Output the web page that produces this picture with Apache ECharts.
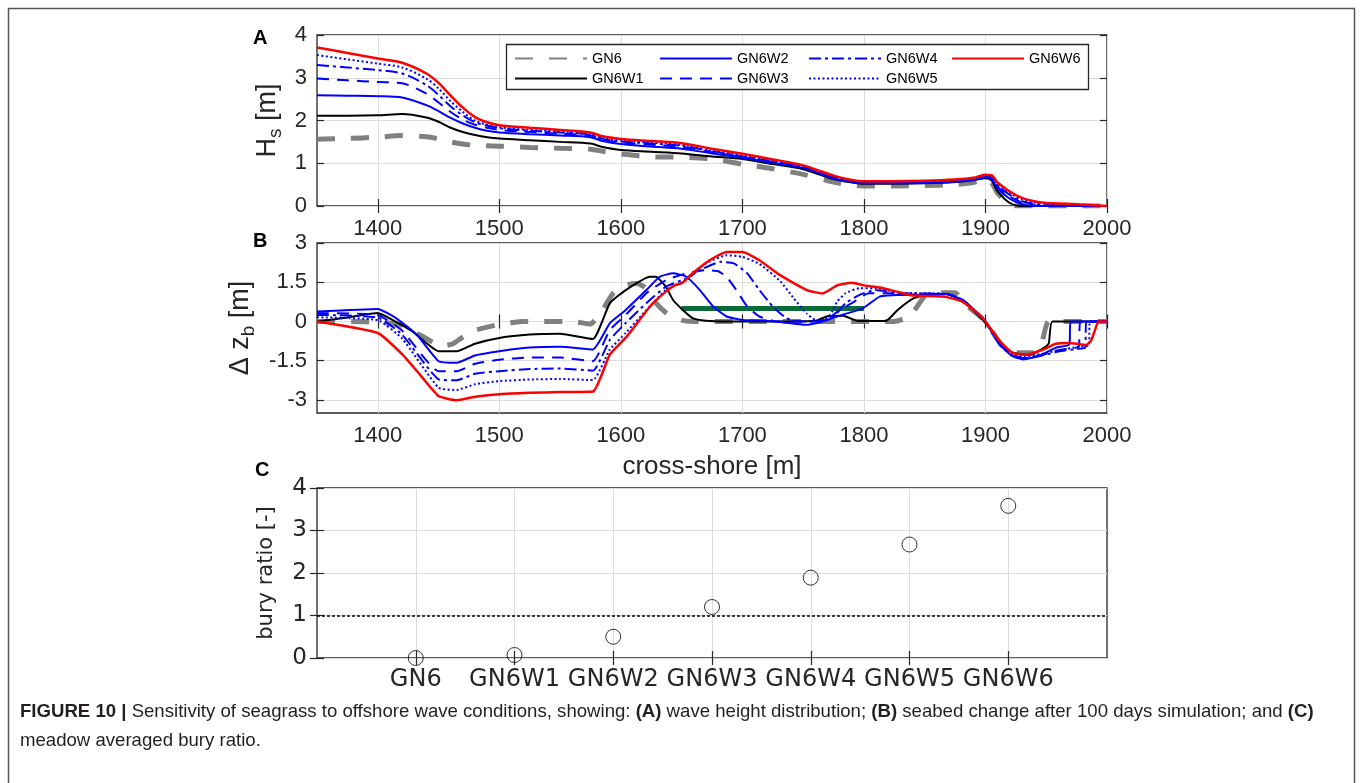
<!DOCTYPE html>
<html><head><meta charset="utf-8">
<script src="https://cdn.jsdelivr.net/npm/echarts@6/dist/echarts.min.js"></script>
<style>html,body{margin:0;padding:0;background:#fff}#c{width:1360px;height:783px}</style>
</head><body><div id="c"></div><script>
// ---------------- DATA ----------------
const seriesNames = ['GN6', 'GN6W1', 'GN6W2', 'GN6W3', 'GN6W4', 'GN6W5', 'GN6W6'];

// Panel A: significant wave height Hs [m] along cross-shore x [m]
const xA = [1350, 1375, 1400, 1420, 1440, 1450, 1460, 1470, 1480, 1490, 1500, 1525, 1550, 1575, 1585, 1600, 1625, 1650, 1675, 1700, 1725, 1750, 1775, 1790, 1800, 1825, 1850, 1875, 1890, 1900, 1905, 1910, 1920, 1930, 1940, 1950, 1960, 1975, 2000];
const hsGN6   = [1.56, 1.58, 1.61, 1.65, 1.62, 1.57, 1.50, 1.45, 1.42, 1.41, 1.40, 1.37, 1.35, 1.33, 1.28, 1.22, 1.15, 1.14, 1.10, 0.98, 0.87, 0.74, 0.56, 0.49, 0.47, 0.47, 0.48, 0.50, 0.55, 0.62, 0.55, 0.30, 0.03, 0.0, 0.0, 0.0, 0.0, 0.0, 0.0];
const hsGN6W1 = [2.11, 2.11, 2.12, 2.15, 2.07, 1.97, 1.83, 1.73, 1.66, 1.61, 1.58, 1.54, 1.50, 1.46, 1.38, 1.31, 1.27, 1.23, 1.16, 1.10, 0.98, 0.86, 0.63, 0.55, 0.52, 0.52, 0.53, 0.56, 0.60, 0.65, 0.60, 0.34, 0.07, 0.0, 0.0, 0.0, 0.0, 0.0, 0.0];
const hsGN6W2 = [2.59, 2.58, 2.57, 2.54, 2.36, 2.22, 2.06, 1.93, 1.83, 1.76, 1.72, 1.68, 1.65, 1.61, 1.52, 1.45, 1.39, 1.34, 1.23, 1.13, 1.01, 0.89, 0.65, 0.56, 0.53, 0.53, 0.54, 0.57, 0.61, 0.67, 0.63, 0.41, 0.17, 0.04, 0.0, 0.0, 0.0, 0.0, 0.0];
const hsGN6W3 = [2.98, 2.94, 2.90, 2.87, 2.63, 2.42, 2.20, 2.02, 1.90, 1.83, 1.78, 1.73, 1.69, 1.65, 1.55, 1.49, 1.43, 1.38, 1.26, 1.15, 1.03, 0.90, 0.66, 0.57, 0.54, 0.54, 0.55, 0.58, 0.62, 0.68, 0.65, 0.45, 0.22, 0.08, 0.02, 0.0, 0.0, 0.0, 0.0];
const hsGN6W4 = [3.30, 3.24, 3.18, 3.10, 2.83, 2.60, 2.33, 2.12, 1.96, 1.88, 1.82, 1.76, 1.72, 1.67, 1.57, 1.51, 1.46, 1.41, 1.28, 1.16, 1.04, 0.91, 0.67, 0.58, 0.55, 0.55, 0.56, 0.59, 0.63, 0.69, 0.67, 0.48, 0.26, 0.11, 0.05, 0.02, 0.01, 0.0, 0.0];
const hsGN6W5 = [3.53, 3.43, 3.33, 3.24, 2.98, 2.75, 2.45, 2.20, 2.00, 1.90, 1.84, 1.78, 1.74, 1.68, 1.59, 1.53, 1.48, 1.43, 1.30, 1.18, 1.06, 0.92, 0.68, 0.59, 0.56, 0.56, 0.57, 0.60, 0.64, 0.70, 0.69, 0.52, 0.30, 0.15, 0.08, 0.05, 0.03, 0.01, 0.0];
const hsGN6W6 = [3.71, 3.58, 3.45, 3.35, 3.10, 2.88, 2.58, 2.30, 2.08, 1.96, 1.89, 1.83, 1.78, 1.72, 1.63, 1.57, 1.52, 1.47, 1.34, 1.22, 1.09, 0.95, 0.71, 0.61, 0.58, 0.58, 0.59, 0.62, 0.66, 0.73, 0.72, 0.55, 0.34, 0.19, 0.11, 0.07, 0.06, 0.04, 0.0];

// Panel B: seabed change dz_b [m]
const xbGN6   = [1350, 1380, 1400, 1418, 1440, 1452, 1462, 1477, 1499, 1520, 1560, 1575, 1583, 1594, 1605, 1613, 1620, 1628, 1638, 1650, 1660, 1825, 1838, 1850, 1860, 1875, 1885, 1900, 1913, 1925, 1940, 1946, 1952, 2000];
const dzGN6   = [0.0, 0.0, -0.03, -0.12, -0.65, -0.95, -0.85, -0.38, -0.12, 0.0, 0.0, -0.1, 0.3, 1.1, 1.4, 1.45, 1.3, 0.75, 0.3, 0.05, 0.0, 0.0, 0.2, 0.97, 1.1, 1.1, 0.6, 0.0, -0.9, -1.2, -1.2, -0.9, 0.0, 0.0];
const xbGN6W1 = [1350, 1375, 1400, 1412, 1429, 1450, 1465, 1480, 1500, 1525, 1550, 1577, 1591, 1604, 1624, 1629, 1637, 1643, 1651, 1659, 1670, 1687, 1760, 1770, 1783, 1795, 1818, 1828, 1841, 1855, 1868, 1882, 1895, 1900, 1912, 1922, 1936, 1945, 1952, 1955, 2000];
const dzGN6W1 = [0.0, 0.15, 0.32, 0.06, -0.4, -1.14, -1.14, -0.85, -0.63, -0.5, -0.47, -0.67, 0.70, 1.2, 1.71, 1.71, 1.33, 0.82, 0.44, 0.13, 0.03, 0.0, 0.02, 0.2, 0.22, 0.02, 0.02, 0.45, 0.89, 1.05, 1.05, 0.76, 0.2, -0.06, -0.8, -1.18, -1.28, -1.1, -0.85, 0.0, 0.0];
const xbGN6W2 = [1350, 1400, 1415, 1432, 1450, 1465, 1480, 1500, 1525, 1550, 1577, 1591, 1604, 1621, 1632, 1643, 1654, 1665, 1676, 1687, 1700, 1728, 1752, 1766, 1782, 1799, 1813, 1827, 1841, 1868, 1882, 1900, 1912, 1922, 1931, 1945, 1958, 1969, 1970, 2000];
const dzGN6W2 = [0.38, 0.48, 0.13, -0.5, -1.52, -1.58, -1.3, -1.14, -1.0, -0.97, -1.07, -0.06, 0.44, 1.2, 1.71, 1.84, 1.71, 1.2, 0.57, 0.19, 0.06, 0.0, -0.13, 0.0, 0.25, 0.5, 0.95, 1.01, 1.01, 1.05, 0.8, 0.0, -0.9, -1.32, -1.45, -1.3, -1.0, -0.88, 0.0, 0.0];
const xbGN6W3 = [1350, 1400, 1420, 1450, 1465, 1480, 1500, 1525, 1550, 1577, 1591, 1604, 1621, 1637, 1654, 1670, 1680, 1687, 1695, 1704, 1714, 1728, 1760, 1769, 1780, 1790, 1804, 1820, 1840, 1868, 1882, 1900, 1912, 1922, 1932, 1945, 1960, 1975, 1977, 1978, 2000];
const dzGN6W3 = [0.32, 0.25, -0.35, -1.9, -1.9, -1.62, -1.46, -1.38, -1.38, -1.52, -0.32, 0.25, 1.08, 1.58, 1.84, 1.96, 1.92, 1.71, 1.2, 0.57, 0.19, 0.0, 0.0, 0.06, 0.44, 0.70, 1.08, 1.08, 1.03, 1.05, 0.8, 0.0, -0.88, -1.28, -1.4, -1.3, -1.1, -1.0, -0.95, 0.0, 0.0];
const xbGN6W4 = [1350, 1400, 1420, 1450, 1465, 1480, 1500, 1525, 1550, 1577, 1591, 1604, 1621, 1637, 1654, 1668, 1682, 1693, 1704, 1714, 1725, 1736, 1747, 1763, 1774, 1785, 1796, 1809, 1830, 1868, 1882, 1900, 1912, 1922, 1932, 1945, 1960, 1975, 1982, 1983, 2000];
const dzGN6W4 = [0.25, 0.15, -0.5, -2.21, -2.25, -2.0, -1.9, -1.82, -1.8, -1.88, -0.7, -0.06, 0.70, 1.33, 1.65, 2.03, 2.28, 2.22, 1.84, 1.2, 0.57, 0.13, 0.0, 0.0, 0.13, 0.70, 1.01, 1.2, 1.08, 1.05, 0.8, 0.0, -0.88, -1.3, -1.42, -1.32, -1.15, -1.05, -1.0, 0.0, 0.0];
const xbGN6W5 = [1350, 1400, 1420, 1450, 1465, 1480, 1500, 1525, 1550, 1577, 1591, 1604, 1621, 1637, 1654, 1670, 1687, 1700, 1714, 1731, 1742, 1753, 1760, 1768, 1774, 1778, 1785, 1796, 1809, 1830, 1868, 1882, 1900, 1912, 1922, 1932, 1945, 1960, 1975, 1985, 1986, 2000];
const dzGN6W5 = [0.16, 0.05, -0.65, -2.53, -2.62, -2.4, -2.28, -2.22, -2.2, -2.24, -1.07, -0.44, 0.44, 1.2, 1.58, 2.22, 2.53, 2.47, 2.2, 1.55, 0.9, 0.3, 0.06, 0.06, 0.38, 0.76, 1.08, 1.27, 1.27, 1.1, 1.05, 0.8, 0.0, -0.85, -1.25, -1.35, -1.25, -1.1, -0.98, -0.9, 0.0, 0.0];
const xbGN6W6 = [1350, 1400, 1420, 1435, 1450, 1465, 1480, 1500, 1525, 1550, 1577, 1591, 1605, 1624, 1637, 1645, 1650, 1659, 1673, 1687, 1700, 1714, 1731, 1753, 1766, 1778, 1790, 1801, 1813, 1827, 1840, 1855, 1868, 1881, 1895, 1900, 1912, 1922, 1933, 1947, 1958, 1969, 1983, 1987, 1990, 1993, 2000];
const dzGN6W6 = [0.0, -0.44, -1.25, -2.05, -2.85, -3.01, -2.88, -2.78, -2.73, -2.70, -2.68, -1.26, -0.57, 0.57, 1.14, 1.40, 1.46, 1.84, 2.34, 2.66, 2.66, 2.34, 1.77, 1.20, 1.07, 1.38, 1.48, 1.37, 1.30, 1.14, 0.99, 0.97, 0.93, 0.76, 0.25, 0.0, -0.76, -1.2, -1.27, -1.08, -0.85, -0.82, -0.9, -0.72, -0.35, 0.0, 0.0];
// seagrass meadow extent (green bar)
const meadowX = [1650, 1800];
const meadowZ = [0.5, 0.5];

// Panel C: meadow averaged bury ratio
const buryCats  = ['GN6', 'GN6W1', 'GN6W2', 'GN6W3', 'GN6W4', 'GN6W5', 'GN6W6'];
const buryRatio = [0.0, 0.07, 0.5, 1.2, 1.89, 2.67, 3.58];
const buryThreshold = 1;

// tick values
const xTicks = [1400, 1500, 1600, 1700, 1800, 1900, 2000];
const hsTicks = [0, 1, 2, 3, 4];
const dzTicks = [-3, -1.5, 0, 1.5, 3];
const buryTicks = [0, 1, 2, 3, 4];
const catTicks = [1, 2, 3, 4, 5, 6, 7];

// ---------------- STYLE ----------------
const hsData = { GN6: hsGN6, GN6W1: hsGN6W1, GN6W2: hsGN6W2, GN6W3: hsGN6W3, GN6W4: hsGN6W4, GN6W5: hsGN6W5, GN6W6: hsGN6W6 };
const dzX = { GN6: xbGN6, GN6W1: xbGN6W1, GN6W2: xbGN6W2, GN6W3: xbGN6W3, GN6W4: xbGN6W4, GN6W5: xbGN6W5, GN6W6: xbGN6W6 };
const dzY = { GN6: dzGN6, GN6W1: dzGN6W1, GN6W2: dzGN6W2, GN6W3: dzGN6W3, GN6W4: dzGN6W4, GN6W5: dzGN6W5, GN6W6: dzGN6W6 };
const lineStyles = {
  GN6:   { color: '#808080', width: 5, type: [18, 16] },
  GN6W1: { color: '#000000', width: 2, type: 'solid' },
  GN6W2: { color: '#0000ff', width: 2, type: 'solid' },
  GN6W3: { color: '#0000ff', width: 2, type: [12, 8] },
  GN6W4: { color: '#0000ff', width: 2, type: [12, 4, 3, 4] },
  GN6W5: { color: '#0000ff', width: 2, type: [2, 2.5] },
  GN6W6: { color: '#ff0000', width: 2.5, type: 'solid' }
};
const FONT = '"Liberation Sans", Arial, Helvetica, sans-serif';
const FONT_C = '"DejaVu Sans", sans-serif';
const AX = '#262626';
const GL = '#dcdcdc';

function axis(o) {
  return {
    type: 'value', gridIndex: o.grid, min: o.min, max: o.max, position: o.position,
    axisLine: { show: false },
    axisTick: { show: true, inside: true, length: 7, customValues: o.ticks, lineStyle: { color: AX, width: 1.2 } },
    axisLabel: { show: o.labels !== false, customValues: o.ticks, margin: o.margin || 10, fontSize: o.fs || 22,
      fontFamily: o.ff || FONT, color: AX, formatter: o.fmt || (v => String(v)), showMinLabel: true, showMaxLabel: true, hideOverlap: false },
    splitLine: { show: !!o.split, lineStyle: { color: GL, width: 1 } },
    name: o.name, nameLocation: 'middle', nameGap: o.nameGap, nameTextStyle: o.nameStyle, nameMoveOverlap: false,
    axisPointer: { show: false }
  };
}

const series = [];
seriesNames.forEach((n, k) => {
  const st = lineStyles[n];
  series.push({
    type: 'line', name: n, xAxisIndex: 0, yAxisIndex: 0, symbol: 'none', smooth: 0.3,
    data: xA.map((x, i) => [x, hsData[n][i]]),
    lineStyle: st, itemStyle: { color: st.color }, z: 2 + k * 0.01, silent: true
  });
});
series.push({
  type: 'line', name: 'meadow', xAxisIndex: 2, yAxisIndex: 2, symbol: 'none',
  data: meadowX.map((x, i) => [x, meadowZ[i]]),
  lineStyle: { color: '#0a6a38', width: 5 }, itemStyle: { color: '#0a6a38' }, silent: true, z: 2
});
seriesNames.forEach((n, k) => {
  const st = lineStyles[n];
  series.push({
    type: 'line', name: n, xAxisIndex: 2, yAxisIndex: 2, symbol: 'none', smooth: 0.15,
    data: dzX[n].map((x, i) => [x, dzY[n][i]]),
    lineStyle: st, itemStyle: { color: st.color }, z: 2 + k * 0.01, silent: true
  });
});
series.push({
  type: 'scatter', name: 'bury', xAxisIndex: 4, yAxisIndex: 4, symbol: 'circle', symbolSize: 15,
  data: buryRatio.map((v, i) => [catTicks[i], v]),
  itemStyle: { color: 'rgba(0,0,0,0)', borderColor: '#000', borderWidth: 1 }, silent: true,
  markLine: { silent: true, symbol: ['none', 'none'], label: { show: false },
    lineStyle: { color: '#000', type: [3, 2], width: 1.5 }, data: [{ yAxis: buryThreshold }] }
});

const nameRich = {
  n: { fontSize: 27, fontFamily: FONT, color: AX, lineHeight: 30, verticalAlign: 'top' },
  s: { fontSize: 19, fontFamily: FONT, color: AX, lineHeight: 20, padding: [14, 0, 0, 0] }
};

function legendCol(names, left) {
  return {
    data: names, left: left, top: 51, orient: 'vertical', itemWidth: 72, itemHeight: 14, itemGap: 5, padding: 0,
    selectedMode: false, itemStyle: { opacity: 0 },
    textStyle: { fontSize: 14.5, fontFamily: FONT, color: '#000' }, z: 5
  };
}

const option = {
  animation: false,
  backgroundColor: '#fff',
  grid: [
    { left: 317, top: 35, width: 790, height: 171, show: true, borderColor: AX, borderWidth: 1.3, backgroundColor: '#fff', containLabel: false, outerBoundsMode: 'none' },
    { left: 317, top: 243, width: 790, height: 170, show: true, borderColor: AX, borderWidth: 1.3, backgroundColor: '#fff', containLabel: false, outerBoundsMode: 'none' },
    { left: 317, top: 488, width: 790, height: 170, show: true, borderColor: AX, borderWidth: 1.3, backgroundColor: '#fff', containLabel: false, outerBoundsMode: 'none' }
  ],
  xAxis: [
    axis({ grid: 0, min: 1350, max: 2000, position: 'bottom', ticks: xTicks, split: true, margin: 12 }),
    axis({ grid: 0, min: 1350, max: 2000, position: 'top', ticks: xTicks, labels: false }),
    axis({ grid: 1, min: 1350, max: 2000, position: 'bottom', ticks: xTicks, split: true, margin: 12,
      name: 'cross-shore [m]', nameGap: 41, nameStyle: { fontSize: 26, fontFamily: FONT, color: AX } }),
    axis({ grid: 1, min: 1350, max: 2000, position: 'top', ticks: xTicks, labels: false }),
    axis({ grid: 2, min: 0, max: 8, position: 'bottom', ticks: catTicks, split: true, margin: 10, fs: 24, ff: FONT_C,
      fmt: v => buryCats[Math.round(v) - 1] || '' }),
    axis({ grid: 2, min: 0, max: 8, position: 'top', ticks: catTicks, labels: false })
  ],
  yAxis: [
    axis({ grid: 0, min: 0, max: 4, position: 'left', ticks: hsTicks, split: true, margin: 10,
      name: '{n|H}{s|s}{n| [m]}', nameGap: 33, nameStyle: { rich: nameRich } }),
    axis({ grid: 0, min: 0, max: 4, position: 'right', ticks: hsTicks, labels: false }),
    axis({ grid: 1, min: -3.5, max: 3, position: 'left', ticks: dzTicks, split: true, margin: 10,
      name: '{n|Δ z}{s|b}{n| [m]}', nameGap: 60, nameStyle: { rich: nameRich } }),
    axis({ grid: 1, min: -3.5, max: 3, position: 'right', ticks: dzTicks, labels: false }),
    axis({ grid: 2, min: 0, max: 4, position: 'left', ticks: buryTicks, split: true, margin: 10, fs: 23, ff: FONT_C,
      name: 'bury ratio [-]', nameGap: 40, nameStyle: { fontSize: 21, fontFamily: FONT_C, color: AX } }),
    axis({ grid: 2, min: 0, max: 4, position: 'right', ticks: buryTicks, labels: false })
  ],
  legend: [
    legendCol(['GN6', 'GN6W1'], 514),
    legendCol(['GN6W2', 'GN6W3'], 659),
    legendCol(['GN6W4', 'GN6W5'], 808),
    legendCol(['GN6W6'], 951)
  ],
  graphic: [
    { type: 'rect', shape: { x: 8.5, y: 8.5, width: 1346, height: 820 }, style: { fill: 'none', stroke: '#555', lineWidth: 1.5 }, z: 0, silent: true },
    { type: 'rect', shape: { x: 506.5, y: 44.5, width: 582, height: 45 }, style: { fill: '#fff', stroke: AX, lineWidth: 1.3 }, z: 3, silent: true },
    { type: 'text', x: 253, y: 28, style: { text: 'A', font: 'bold 20px ' + FONT, fill: '#000' }, z: 5 },
    { type: 'text', x: 253, y: 231, style: { text: 'B', font: 'bold 20px ' + FONT, fill: '#000' }, z: 5 },
    { type: 'text', x: 255, y: 460, style: { text: 'C', font: 'bold 20px ' + FONT, fill: '#000' }, z: 5 },
    { type: 'text', x: 20, y: 697, z: 5, style: {
      text: '{b|FIGURE 10 |} Sensitivity of seagrass to offshore wave conditions, showing: {b|(A)} wave height distribution; {b|(B)} seabed change after 100 days simulation; and {b|(C)}\nmeadow averaged bury ratio.',
      font: '18.6px ' + FONT, fill: '#231f20', lineHeight: 29,
      rich: { b: { fontWeight: 'bold', fontSize: 18.6, fontFamily: FONT, fill: '#231f20', lineHeight: 29 } }
    } }
  ],
  series: series
};

const chart = echarts.init(document.getElementById('c'), null, { renderer: 'canvas' });
chart.setOption(option);
</script></body></html>
